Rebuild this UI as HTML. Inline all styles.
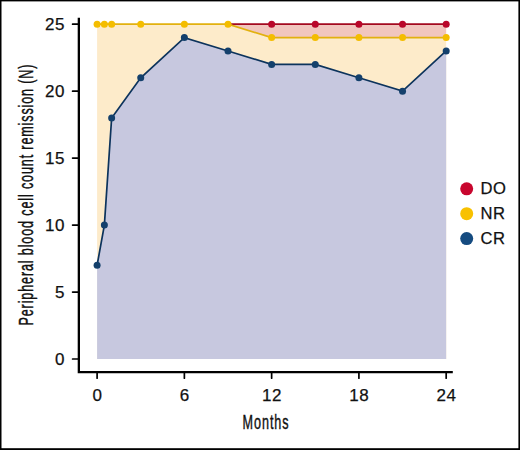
<!DOCTYPE html>
<html><head><meta charset="utf-8"><style>
html,body{margin:0;padding:0;background:#fff;}
.wrap{position:relative;width:520px;height:450px;overflow:hidden;background:#fff;}
.wrap svg{position:absolute;left:0;top:0;}

text{font-family:"Liberation Sans",sans-serif;fill:#111;}
.t{font-size:17px;letter-spacing:0.5px;stroke:#111;stroke-width:0.25px;}
.c{font-size:21px;stroke:#111;stroke-width:0.45px;}
.l{font-size:16.6px;letter-spacing:0.4px;stroke:#111;stroke-width:0.25px;}
</style></head><body><div class="wrap">
<svg width="520" height="450" viewBox="0 0 520 450">
<polygon points="97.1,359.0 97.10,24.20 104.37,24.20 111.64,24.20 140.73,24.20 184.37,24.20 228.00,24.20 271.64,37.59 315.27,37.59 358.91,37.59 402.54,37.59 446.18,37.59 446.17999999999995,359.0" fill="#fdebca"/>
<polygon points="228.00,24.20 271.64,24.20 315.27,24.20 358.91,24.20 402.54,24.20 446.18,24.20 446.18,37.59 402.54,37.59 358.91,37.59 315.27,37.59 271.64,37.59 228.00,24.20" fill="#f1c6be"/>
<polygon points="97.1,359.0 97.10,265.26 104.37,225.08 111.64,117.94 140.73,77.77 184.37,37.59 228.00,50.98 271.64,64.38 315.27,64.38 358.91,77.77 402.54,91.16 446.18,50.98 446.17999999999995,359.0" fill="#c7c8df"/>
<polyline points="228.00,24.20 271.64,24.20 315.27,24.20 358.91,24.20 402.54,24.20 446.18,24.20" fill="none" stroke="#a3091f" stroke-width="1.7"/>
<polyline points="97.10,24.20 104.37,24.20 111.64,24.20 140.73,24.20 184.37,24.20 228.00,24.20 271.64,37.59 315.27,37.59 358.91,37.59 402.54,37.59 446.18,37.59" fill="none" stroke="#e2b10f" stroke-width="1.7"/>
<polyline points="97.10,265.26 104.37,225.08 111.64,117.94 140.73,77.77 184.37,37.59 228.00,50.98 271.64,64.38 315.27,64.38 358.91,77.77 402.54,91.16 446.18,50.98" fill="none" stroke="#0c335c" stroke-width="1.7"/>
<circle cx="271.64" cy="24.20" r="3.5" fill="#b9072a"/>
<circle cx="315.27" cy="24.20" r="3.5" fill="#b9072a"/>
<circle cx="358.91" cy="24.20" r="3.5" fill="#b9072a"/>
<circle cx="402.54" cy="24.20" r="3.5" fill="#b9072a"/>
<circle cx="446.18" cy="24.20" r="3.5" fill="#b9072a"/>
<circle cx="97.10" cy="24.20" r="3.5" fill="#f4bd00"/>
<circle cx="104.37" cy="24.20" r="3.5" fill="#f4bd00"/>
<circle cx="111.64" cy="24.20" r="3.5" fill="#f4bd00"/>
<circle cx="140.73" cy="24.20" r="3.5" fill="#f4bd00"/>
<circle cx="184.37" cy="24.20" r="3.5" fill="#f4bd00"/>
<circle cx="228.00" cy="24.20" r="3.5" fill="#f4bd00"/>
<circle cx="271.64" cy="37.59" r="3.5" fill="#f4bd00"/>
<circle cx="315.27" cy="37.59" r="3.5" fill="#f4bd00"/>
<circle cx="358.91" cy="37.59" r="3.5" fill="#f4bd00"/>
<circle cx="402.54" cy="37.59" r="3.5" fill="#f4bd00"/>
<circle cx="446.18" cy="37.59" r="3.5" fill="#f4bd00"/>
<circle cx="97.10" cy="265.26" r="3.5" fill="#14406c"/>
<circle cx="104.37" cy="225.08" r="3.5" fill="#14406c"/>
<circle cx="111.64" cy="117.94" r="3.5" fill="#14406c"/>
<circle cx="140.73" cy="77.77" r="3.5" fill="#14406c"/>
<circle cx="184.37" cy="37.59" r="3.5" fill="#14406c"/>
<circle cx="228.00" cy="50.98" r="3.5" fill="#14406c"/>
<circle cx="271.64" cy="64.38" r="3.5" fill="#14406c"/>
<circle cx="315.27" cy="64.38" r="3.5" fill="#14406c"/>
<circle cx="358.91" cy="77.77" r="3.5" fill="#14406c"/>
<circle cx="402.54" cy="91.16" r="3.5" fill="#14406c"/>
<circle cx="446.18" cy="50.98" r="3.5" fill="#14406c"/>
<path d="M78.85 17.7 V372.2 H452.8" fill="none" stroke="#000" stroke-width="2.3" stroke-linejoin="miter"/>
<line x1="72.6" y1="359.00" x2="78" y2="359.00" stroke="#000" stroke-width="1.7" stroke-linecap="round"/>
<text x="65.0" y="365.10" text-anchor="end" class="t">0</text>
<line x1="72.6" y1="292.04" x2="78" y2="292.04" stroke="#000" stroke-width="1.7" stroke-linecap="round"/>
<text x="65.0" y="298.14" text-anchor="end" class="t">5</text>
<line x1="72.6" y1="225.08" x2="78" y2="225.08" stroke="#000" stroke-width="1.7" stroke-linecap="round"/>
<text x="65.0" y="231.18" text-anchor="end" class="t">10</text>
<line x1="72.6" y1="158.12" x2="78" y2="158.12" stroke="#000" stroke-width="1.7" stroke-linecap="round"/>
<text x="65.0" y="164.22" text-anchor="end" class="t">15</text>
<line x1="72.6" y1="91.16" x2="78" y2="91.16" stroke="#000" stroke-width="1.7" stroke-linecap="round"/>
<text x="65.0" y="97.26" text-anchor="end" class="t">20</text>
<line x1="72.6" y1="24.20" x2="78" y2="24.20" stroke="#000" stroke-width="1.7" stroke-linecap="round"/>
<text x="65.0" y="30.30" text-anchor="end" class="t">25</text>
<line x1="97.10" y1="372" x2="97.10" y2="378.2" stroke="#000" stroke-width="1.7" stroke-linecap="round"/>
<text x="97.50" y="400.6" text-anchor="middle" class="t">0</text>
<line x1="184.37" y1="372" x2="184.37" y2="378.2" stroke="#000" stroke-width="1.7" stroke-linecap="round"/>
<text x="184.77" y="400.6" text-anchor="middle" class="t">6</text>
<line x1="271.64" y1="372" x2="271.64" y2="378.2" stroke="#000" stroke-width="1.7" stroke-linecap="round"/>
<text x="272.04" y="400.6" text-anchor="middle" class="t">12</text>
<line x1="358.91" y1="372" x2="358.91" y2="378.2" stroke="#000" stroke-width="1.7" stroke-linecap="round"/>
<text x="359.31" y="400.6" text-anchor="middle" class="t">18</text>
<line x1="446.18" y1="372" x2="446.18" y2="378.2" stroke="#000" stroke-width="1.7" stroke-linecap="round"/>
<text x="446.58" y="400.6" text-anchor="middle" class="t">24</text>
<g transform="translate(265.6,429.2) scale(0.6,1)"><text x="0" y="0" text-anchor="middle" class="c" textLength="76.7" lengthAdjust="spacing">Months</text></g>
<g transform="translate(32.6,195) rotate(-90) scale(0.6,1)"><text x="0" y="0" text-anchor="middle" class="c" textLength="435.0" lengthAdjust="spacing">Peripheral blood cell count remission (N)</text></g>
<circle cx="466.7" cy="188.80" r="6.5" fill="#c8062e"/>
<text x="480.6" y="193.80" class="l">DO</text>
<circle cx="466.7" cy="213.70" r="6.5" fill="#f8c100"/>
<text x="480.6" y="218.70" class="l">NR</text>
<circle cx="466.7" cy="238.60" r="6.5" fill="#154b80"/>
<text x="480.6" y="243.60" class="l">CR</text>
<rect x="0" y="0" width="520" height="1.4" fill="#000"/>
<rect x="0" y="0" width="1.5" height="450" fill="#000"/>
<rect x="518.4" y="0" width="1.6" height="450" fill="#000"/>
<rect x="0" y="448.2" width="520" height="1.8" fill="#000"/>
</svg></div></body></html>
